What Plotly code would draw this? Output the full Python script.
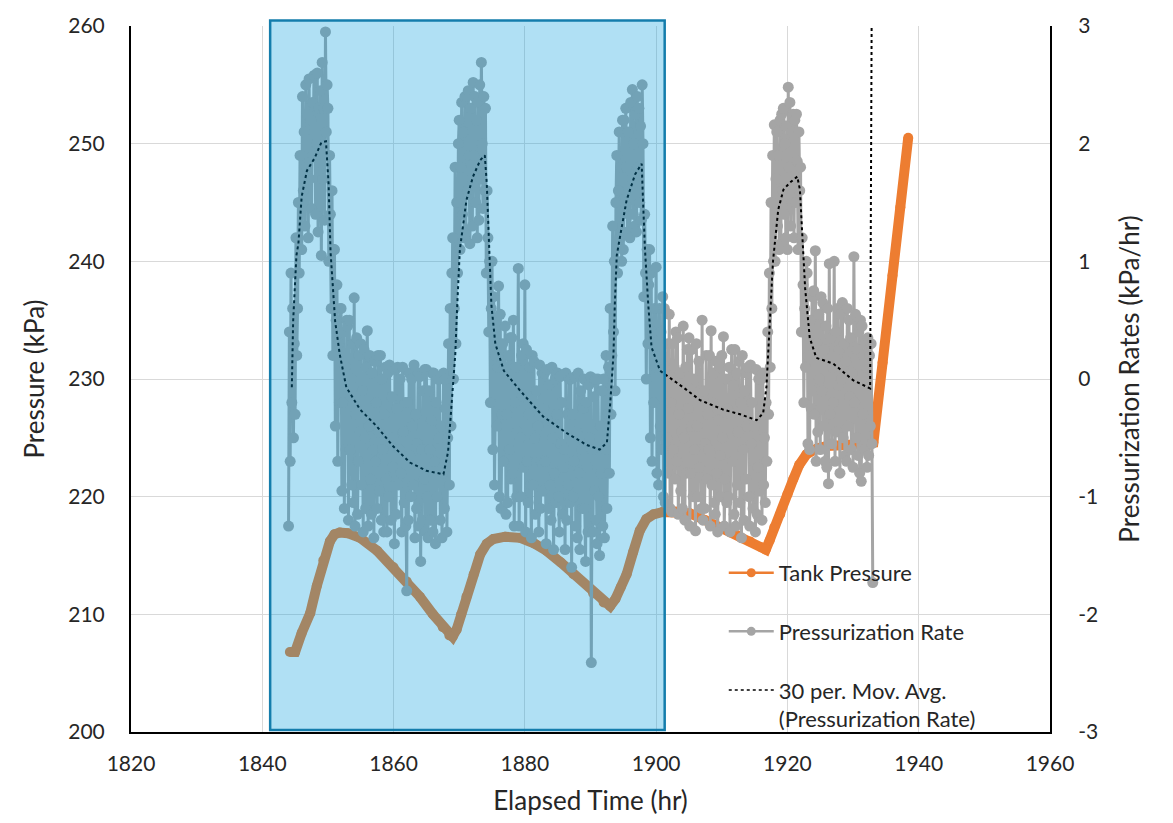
import plotly.graph_objects as go

# ---------------- data ----------------
tank_time = [1844.2, 1845.0, 1846.0, 1847.3, 1848.3, 1849.3, 1850.3, 1851.0, 1851.8, 1853.0,
             1854.9, 1857.5, 1860.0, 1862.0, 1864.0, 1866.0, 1867.5, 1868.5, 1869.0, 1869.6,
             1870.3, 1871.1, 1872.2, 1873.2, 1874.2, 1875.2, 1877.0, 1879.3, 1881.5, 1883.3,
             1885.5, 1887.4, 1890.4, 1892.0, 1893.0, 1893.8, 1894.6, 1895.5, 1896.5, 1897.5,
             1898.5, 1899.6, 1901.0, 1903.0, 1905.1, 1907.5, 1910.2, 1912.5, 1914.3, 1916.0,
             1916.7, 1917.3, 1918.0, 1918.9, 1920.0, 1920.9, 1921.8, 1922.9, 1924.5, 1926.0,
             1929.0, 1932.5, 1933.1, 1934.5, 1936.0, 1937.2, 1938.4]
tank_pressure = [206.8, 206.8, 208.4, 210.1, 212.4, 214.6, 216.2, 216.8, 216.95, 216.9,
                 216.5, 215.4, 214.0, 212.8, 211.5, 210.0, 208.9, 208.2, 208.1, 208.7,
                 210.0, 211.5, 213.4, 215.1, 216.0, 216.4, 216.6, 216.5, 216.0, 215.4,
                 214.4, 213.4, 211.8, 211.0, 210.7, 211.3, 212.3, 213.4, 215.3, 217.1,
                 218.1, 218.5, 218.7, 218.75, 218.6, 218.0, 217.3, 216.7, 216.2, 215.7,
                 215.5, 216.3, 217.4, 218.5, 220.2, 221.5, 222.7, 223.6, 224.1, 224.3,
                 224.4, 224.4, 224.6, 231.4, 238.8, 244.6, 250.5]

# pressurization rate (kPa/hr), sampled every 0.125 hr starting at 1844.0 (one row per hour)
rate_start = 1844.0
rate_step = 0.125
rate_values = [
    -1.25, 0.40, -0.70, 0.90, -0.20, 0.60, -0.50, 0.30,      # 1844
    -0.30, 1.20, 0.20, 0.60, 1.50, 0.90, 1.90, 1.10,         # 1845
    1.10, 2.40, 1.60, 2.10, 1.30, 2.50, 1.80, 2.25,          # 1846
    1.20, 2.55, 1.70, 2.20, 1.45, 2.35, 1.90, 2.58,          # 1847
    2.58, 1.40, 2.00, 2.60, 1.25, 2.30, 1.75, 2.45,          # 1848
    1.05, 2.69, 1.70, 2.30, 1.35, 2.95, 2.10, 2.50,          # 1849
    2.30, 1.00, 1.90, 1.40, 0.60, 1.60, 0.20, 1.10,          # 1850
    1.10, -0.40, 0.50, 0.80, -0.70, 0.30, -0.20, 0.60,       # 1851
    0.60, -0.95, -0.20, 0.40, -1.10, 0.10, -0.60, 0.50,      # 1852
    0.45, -1.20, 0.50, -0.60, 0.00, -0.90, 0.30, -1.05,      # 1853
    0.69, -1.25, -0.30, 0.35, -1.15, -0.70, 0.20, -0.45,     # 1854
    0.30, -0.90, -0.10, -1.30, 0.25, -0.50, -1.10, 0.10,     # 1855
    0.41, -1.25, -0.40, 0.20, -0.85, -1.15, 0.05, -0.60,     # 1856
    -1.35, 0.15, -0.70, -0.20, -1.10, 0.20, -0.45, -0.95,    # 1857
    0.20, -1.20, 0.00, -0.60, -1.30, -0.30, 0.10, -0.85,     # 1858
    -1.30, 0.05, -1.00, 0.12, -0.50, -1.20, -0.15, -0.75,    # 1859
    -0.50, -1.40, 0.08, -1.15, -0.25, 0.10, -0.90, -0.60,    # 1860
    0.00, -0.80, -1.30, 0.10, -0.45, -1.05, -0.20, -1.25,    # 1861
    -1.80, -0.20, -1.20, 0.05, -0.65, -1.00, 0.00, -0.40,    # 1862
    -0.90, 0.12, -1.35, -0.30, -1.10, -0.55, 0.05, -1.25,    # 1863
    0.02, -1.55, -0.60, -1.20, -0.10, -0.85, 0.08, -1.30,    # 1864
    0.08, -1.00, -1.35, -0.10, -0.60, -1.20, -0.35, 0.05,    # 1865
    -1.30, 0.05, -0.70, -1.40, -0.20, -1.00, 0.00, -0.50,    # 1866
    0.00, -1.20, -0.40, -1.35, -0.80, 0.05, -1.10, -0.25,    # 1867
    0.00, -1.30, -0.50, 0.30, -0.90, 0.60, -0.40, 0.90,      # 1868
    1.20, 0.00, 0.60, 1.80, 0.30, 1.50, 0.90, 2.00,          # 1869
    2.20, 1.10, 1.80, 2.35, 1.40, 2.10, 1.20, 2.40,          # 1870
    1.25, 2.40, 1.60, 2.45, 1.90, 1.15, 2.30, 1.70,          # 1871
    1.30, 2.52, 1.90, 2.40, 1.50, 2.20, 1.20, 2.35,          # 1872
    1.35, 2.50, 1.70, 2.69, 2.00, 1.45, 2.40, 1.60,          # 1873
    2.30, 0.90, 1.60, 1.20, 0.40, 1.00, -0.20, 0.60,         # 1874
    1.00, -0.60, 0.70, -0.90, 0.20, 0.50, -0.40, 0.10,       # 1875
    0.79, -1.00, 0.55, -1.10, -0.30, 0.30, -0.70, 0.10,      # 1876
    0.45, -1.15, -0.30, -1.05, 0.20, -0.60, 0.35, -0.85,     # 1877
    0.35, -0.80, 0.50, -1.25, -0.20, 0.10, -1.00, -0.45,     # 1878
    0.94, -1.25, -0.50, -1.00, 0.20, -0.15, 0.30, -0.75,     # 1879
    0.80, -1.30, 0.25, -0.70, -1.05, -0.30, 0.10, -0.90,     # 1880
    -1.35, 0.20, -0.90, 0.15, -0.50, -1.15, -0.10, -0.70,    # 1881
    -0.40, -1.30, 0.12, -1.10, -0.70, 0.05, -0.95, -0.25,    # 1882
    0.05, -0.70, -1.40, 0.08, -0.35, -1.10, -0.05, -0.90,    # 1883
    -1.20, 0.10, -0.50, -1.45, -0.80, 0.00, -1.05, -0.30,    # 1884
    0.05, -1.00, -1.30, 0.02, -0.55, -0.20, -1.15, -0.75,    # 1885
    -0.60, -1.45, 0.05, -1.20, -0.30, -0.90, 0.00, -1.05,    # 1886
    0.00, -1.60, -0.30, -1.00, -0.70, 0.02, -1.25, -0.45,    # 1887
    -1.35, 0.05, -0.80, -1.45, -0.10, -0.60, -1.10, -0.25,   # 1888
    0.00, -1.10, -1.55, -0.20, -0.75, -1.30, -0.05, -0.50,   # 1889
    0.02, -2.41, -0.60, -1.30, -0.15, -0.95, 0.00, -1.20,    # 1890
    -1.40, 0.00, -1.00, -1.50, -0.40, -0.80, -0.10, -1.25,   # 1891
    0.00, -1.35, -0.60, 0.20, -1.10, -0.30, 0.10, -0.80,     # 1892
    0.60, -0.30, 0.20, 1.30, 0.40, 1.00, -0.10, 1.50,        # 1893
    1.90, 0.90, 1.60, 2.10, 1.20, 1.80, 1.00, 2.20,          # 1894
    1.10, 2.20, 1.50, 2.30, 1.80, 1.25, 2.10, 1.40,          # 1895
    1.20, 2.35, 1.70, 2.46, 1.40, 2.00, 1.30, 2.25,          # 1896
    1.25, 2.40, 1.80, 2.30, 1.50, 2.15, 1.35, 2.50,          # 1897
    2.00, 0.70, 1.40, 0.90, 0.00, 1.10, 0.30, 0.80,          # 1898
    1.10, -0.50, 0.90, -0.70, 0.40, -0.20, 0.60, 0.10,       # 1899
    0.95, -0.80, 0.20, -0.90, 0.60, -0.40, 0.40, -0.60,      # 1900
    0.70, -1.00, 0.60, -1.05, 0.10, -0.50, 0.30, -0.80,      # 1901
    0.55, -1.10, -0.20, -1.13, 0.30, -0.60, 0.10, -0.85,     # 1902
    0.40, -0.70, 0.35, -1.15, -0.30, 0.05, -0.95, -0.45,     # 1903
    -1.10, 0.45, -0.50, -1.20, 0.10, -0.80, 0.25, -0.25,     # 1904
    0.35, -1.25, -0.80, 0.25, -0.40, -1.00, 0.00, -0.60,     # 1905
    -1.29, 0.30, -0.40, -1.00, 0.15, -0.75, -0.10, -1.10,    # 1906
    0.50, -1.20, -0.10, -1.10, -0.55, 0.20, -0.85, -0.30,    # 1907
    -0.60, 0.20, -1.25, 0.41, -0.90, -0.20, 0.05, -1.05,     # 1908
    -1.15, 0.15, -0.80, -1.30, -0.35, 0.10, -0.65, -1.00,    # 1909
    0.20, -0.50, 0.36, -1.25, -0.85, 0.00, -1.05, -0.25,     # 1910
    -1.00, 0.10, -1.30, -0.30, 0.25, -0.70, -0.05, -1.15,    # 1911
    0.25, -1.25, 0.05, -0.90, -0.45, 0.15, -1.05, -0.20,     # 1912
    -1.35, 0.20, -0.60, -1.20, -0.10, -0.85, 0.05, -0.40,    # 1913
    0.10, -1.00, -1.25, 0.12, -0.55, -0.20, -1.10, -0.70,    # 1914
    -0.40, -1.30, 0.08, -1.15, -0.75, 0.00, -0.95, -0.25,    # 1915
    0.00, -1.20, 0.05, -0.90, -0.50, -1.05, -0.20, -0.70,    # 1916
    0.40, -0.30, 0.90, 0.10, 1.50, 0.60, 1.90, 1.00,         # 1917
    2.16, 1.00, 1.70, 2.10, 1.30, 1.90, 1.10, 2.20,          # 1918
    1.15, 2.25, 1.60, 2.30, 1.40, 2.00, 1.20, 2.15,          # 1919
    1.10, 2.48, 1.80, 2.35, 1.30, 2.10, 1.50, 2.25,          # 1920
    1.20, 2.20, 1.50, 2.25, 1.85, 1.10, 2.10, 1.60,          # 1921
    1.80, 0.40, 1.20, 0.80, -0.20, 0.60, 0.10, 1.00,         # 1922
    0.90, -0.55, 0.20, -0.60, 0.50, -0.25, 0.70, -0.10,      # 1923
    0.75, -0.30, 1.09, -0.70, 0.30, -0.45, 0.55, 0.00,       # 1924
    -0.60, 0.70, -0.10, 0.65, -0.40, 0.25, -0.70, 0.45,      # 1925
    -0.75, 0.60, -0.89, 0.98, -0.30, 0.35, -0.55, 0.10,      # 1926
    -0.20, 1.00, -0.70, 0.40, -0.45, 0.60, -0.05, 0.25,      # 1927
    -0.80, 0.55, 0.00, 0.65, -0.50, 0.30, -0.65, 0.15,       # 1928
    -0.70, 0.60, -0.40, 0.50, -0.15, 0.35, -0.60, 0.05,      # 1929
    -0.75, 1.04, -0.20, 0.55, -0.50, 0.25, -0.65, 0.40,      # 1930
    -0.80, 0.50, -0.87, 0.45, -0.30, 0.20, -0.60, 0.30,      # 1931
    0.10, -0.75, 0.35, -0.65, 0.20, -0.40, 0.30, -0.55,      # 1932
    -1.73,                                                   # 1933
]
rate_time = [rate_start + rate_step * i for i in range(len(rate_values))]

ma_time = [1844.5, 1844.7, 1845.2, 1845.5, 1846.0, 1846.8, 1848.0, 1849.0, 1849.7, 1850.1,
           1850.4, 1851.1, 1851.8, 1852.8, 1854.9, 1857.4, 1859.9, 1862.5, 1865.0, 1867.6,
           1868.3, 1868.8, 1869.4, 1869.7, 1870.1, 1871.1, 1872.1, 1873.2, 1873.9, 1874.2,
           1874.5, 1874.9, 1875.5, 1876.8, 1879.3, 1882.8, 1886.4, 1889.4, 1891.4, 1892.5,
           1893.0, 1893.5, 1893.7, 1894.0, 1894.5, 1895.5, 1896.8, 1897.8, 1898.0, 1898.3,
           1898.8, 1899.3, 1900.6, 1901.3, 1903.1, 1904.1, 1906.7, 1910.2, 1912.8, 1915.3,
           1916.3, 1916.8, 1917.3, 1917.8, 1918.6, 1919.4, 1920.4, 1921.5, 1921.9, 1922.3,
           1922.7, 1923.4, 1924.4, 1927.0, 1930.0, 1932.6, 1932.9]
ma_values = [-0.07, 0.49, 1.05, 1.15, 1.55, 1.77, 1.88, 2.01, 2.02, 1.66,
             1.08, 0.49, 0.21, -0.07, -0.26, -0.40, -0.57, -0.71, -0.78, -0.81,
             -0.62, -0.21, 0.21, 0.63, 1.10, 1.52, 1.72, 1.86, 1.90, 1.66,
             1.24, 0.63, 0.30, 0.07, -0.10, -0.32, -0.46, -0.56, -0.60, -0.54,
             -0.21, 0.21, 0.63, 1.05, 1.21, 1.52, 1.74, 1.83, 1.52, 1.10,
             0.63, 0.27, 0.07, 0.04, -0.03, -0.07, -0.18, -0.26, -0.30, -0.35,
             -0.29, -0.07, 0.49, 1.00, 1.44, 1.61, 1.67, 1.72, 1.61, 1.24,
             0.77, 0.35, 0.18, 0.13, -0.01, -0.08, 4.0]

highlight_start = 1841.2
highlight_end = 1901.3

right_ticks = [-3, -2, -1, 0, 1, 2, 3]
right_tick_text = ['-3', '-2', '-1', '0', '1', '2', '3']

# ---------------- figure ----------------
FONT = 'Lato'
TXT = '#262626'
ORANGE = '#ED7D31'
GRAY = '#A5A5A5'
TICK_SIZE = 21
TITLE_SIZE = 26

fig = go.Figure()
fig.add_trace(go.Scatter(
    x=tank_time, y=tank_pressure, mode='lines+markers', name='Tank Pressure',
    line=dict(color=ORANGE, width=10), marker=dict(size=10, color=ORANGE),
    showlegend=False))
fig.add_trace(go.Scatter(
    x=rate_time, y=rate_values, yaxis='y2', mode='lines+markers', name='Pressurization Rate',
    line=dict(color=GRAY, width=3), marker=dict(size=11, color=GRAY),
    showlegend=False))
fig.add_trace(go.Scatter(
    x=ma_time, y=ma_values, yaxis='y2', mode='lines',
    name='30 per. Mov. Avg.<br>(Pressurization Rate)',
    line=dict(color='black', width=2, dash='dot'), showlegend=False))

# legend entries
fig.add_trace(go.Scatter(x=[None], y=[None], mode='lines+markers', name='Tank Pressure',
                         line=dict(color=ORANGE, width=2.5), marker=dict(size=9, color=ORANGE),
                         legendgroup='a'))
fig.add_trace(go.Scatter(x=[None], y=[None], yaxis='y2', mode='lines+markers',
                         name='Pressurization Rate',
                         line=dict(color=GRAY, width=2.5), marker=dict(size=9, color=GRAY),
                         legendgroup='b'))
fig.add_trace(go.Scatter(x=[None], y=[None], yaxis='y2', mode='lines',
                         name='30 per. Mov. Avg.<br>(Pressurization Rate)',
                         line=dict(color='black', width=1.5, dash='dot'),
                         legendgroup='c'))

fig.add_shape(type='rect', xref='x', yref='paper',
              x0=highlight_start, x1=highlight_end, y0=0.003, y1=1.0077,
              fillcolor='rgba(0,155,219,0.31)',
              line=dict(color='rgb(20,125,172)', width=2.5), layer='above')

axis_common = dict(showgrid=True, gridcolor='#D9D9D9', gridwidth=1,
                   showline=True, linecolor='black', linewidth=2, zeroline=False,
                   tickfont=dict(family=FONT, size=TICK_SIZE, color=TXT), ticks='')

fig.update_layout(
    width=1173, height=823,
    margin=dict(l=131, r=123, t=17, b=89),
    paper_bgcolor='white', plot_bgcolor='white',
    font=dict(family=FONT, color=TXT),
    xaxis=dict(range=[1820, 1960], dtick=20, tick0=1820,
               title=dict(text='Elapsed Time (hr)', font=dict(family=FONT, size=TITLE_SIZE, color=TXT),
                          standoff=18),
               ticklabelstandoff=12, **axis_common),
    yaxis=dict(range=[200, 260], dtick=10,
               title=dict(text='Pressure (kPa)', font=dict(family=FONT, size=TITLE_SIZE, color=TXT),
                          standoff=16),
               ticklabelstandoff=20, **axis_common),
    yaxis2=dict(range=[-3, 3], overlaying='y', side='right', showgrid=False,
                tickvals=right_ticks, ticktext=right_tick_text,
                showline=True, linecolor='black', linewidth=2, zeroline=False,
                tickfont=dict(family=FONT, size=TICK_SIZE, color=TXT),
                ticklabelstandoff=22,
                title=dict(text='Pressurization Rates (kPa/hr)',
                           font=dict(family=FONT, size=TITLE_SIZE, color=TXT), standoff=24)),
    legend=dict(x=0.645, y=0.255, xanchor='left', yanchor='top',
                bgcolor='rgba(0,0,0,0)', font=dict(family=FONT, size=22, color=TXT),
                tracegroupgap=27, valign='top', itemwidth=45),
)

fig.write_html('out.html')
